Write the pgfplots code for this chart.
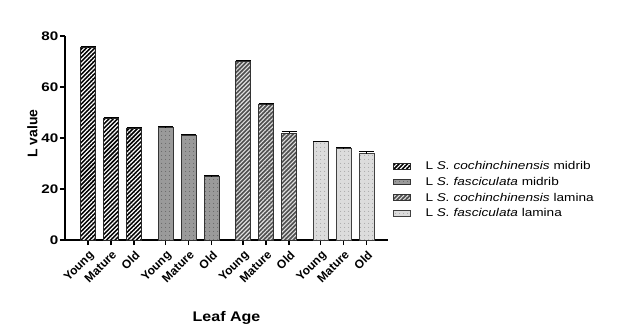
\documentclass[border=0pt]{standalone}
\usepackage{fontspec}
\setmainfont{Liberation Sans}
\newfontfamily\wideA{Liberation Sans}[FakeStretch=1.22]
\newfontfamily\wideB{Liberation Sans}[FakeStretch=1.21]
\newfontfamily\wideC{Liberation Sans}[FakeStretch=1.15]
\usepackage{pgfplots}
\pgfplotsset{compat=1.18}
\usepackage{pgfplotstable}
\usetikzlibrary{patterns.meta}

\pgfplotstableread{
x y e
0 75.5 0.3
1 47.6 0.3
2 43.7 0.3
}\scMid
\pgfplotstableread{
x y e
3.37 44.1 0.3
4.37 41.1 0.3
5.37 24.9 0.2
}\sfMid
\pgfplotstableread{
x y e
6.74 70.1 0.3
7.74 53.1 0.3
8.74 41.9 0.8
}\scLam
\pgfplotstableread{
x y e
10.11 38.5 0.3
11.11 35.9 0.2
12.11 33.9 0.8
}\sfLam

\definecolor{sfmid}{HTML}{9A9A9A}
\definecolor{sclam}{HTML}{505050}
\definecolor{sflam}{HTML}{DCDCDC}

\begin{document}
\begin{tikzpicture}
\begin{axis}[
  name=ax,
  scale only axis,
  width=323bp, height=204bp,
  xmin=-1, xmax=13.04,
  ymin=0, ymax=80,
  axis x line=bottom, axis y line=left,
  axis line style={-, line width=1.4bp},
  ytick={0,20,40,60,80},
  xtick={0,1,2,3.37,4.37,5.37,6.74,7.74,8.74,10.11,11.11,12.11},
  xticklabels={Young,Mature,Old,Young,Mature,Old,Young,Mature,Old,Young,Mature,Old},
  tick style={line width=1.4bp, black},
  major tick length=5bp,
  tick align=outside,
  /pgf/number format/assume math mode=true,
  xticklabel style={font=\fontsize{12}{14}\selectfont\bfseries, rotate=45, anchor=north east, inner sep=0.5bp, xshift=-2.5bp, yshift=-3bp},
  yticklabel style={font=\wideA\fontsize{12.5}{14}\selectfont\bfseries, inner sep=1.5bp},
  xlabel={Leaf Age}, ylabel={L value},
  every axis x label/.style={at={([yshift=-78bp]axis description cs:0.5,0)}, anchor=center, font=\wideC\fontsize{14}{16}\selectfont\bfseries},
  every axis y label/.style={at={([xshift=-32.5bp]axis description cs:0,0.522)}, rotate=90, anchor=center, font=\fontsize{14}{16}\selectfont\bfseries},
  ybar, bar width=15bp, bar shift=0pt,
  legend style={at={([xshift=5bp]axis description cs:1.0,0.245)}, anchor=west, draw=none, fill=none, font=\wideB\fontsize{11.3}{13}\selectfont, row sep=2bp, inner sep=0bp},
  legend cell align=left,
  legend image code/.code={\draw[#1, bar width=15bp] (0bp,-2.5bp) rectangle (17bp,3bp);
    \pgfpathmoveto{\pgfqpoint{0bp}{0bp}}\pgfpathlineto{\pgfqpoint{30bp}{0bp}}\pgfusepath{discard}},
  error bars/y dir=plus, error bars/y explicit,
  error bars/error mark options={rotate=90, mark size=7.5bp, line width=1bp, black},
  error bars/error bar style={line width=1bp, black},
  clip=false,
]
\addplot[draw=black!85, line width=0.8bp, fill=black,
  postaction={pattern={Lines[angle=45,distance=3bp,line width=1.2bp]}, pattern color=white}]
  table[x=x, y=y, y error=e] {\scMid};
\addlegendentry{L \textit{S. cochinchinensis} midrib}
\addplot[draw=black!80, line width=0.8bp, fill=sfmid,
  postaction={pattern={Dots[radius=0.45bp,distance=3.6bp]}, pattern color=black!70}]
  table[x=x, y=y, y error=e] {\sfMid};
\addlegendentry{L \textit{S. fasciculata} midrib}
\addplot[draw=black!80, line width=0.8bp, fill=sclam,
  postaction={pattern={Lines[angle=45,distance=3bp,line width=1.1bp]}, pattern color=black!12}]
  table[x=x, y=y, y error=e] {\scLam};
\addlegendentry{L \textit{S. cochinchinensis} lamina}
\addplot[draw=black!75, line width=0.8bp, fill=sflam,
  postaction={pattern={Dots[radius=0.45bp,distance=3.6bp]}, pattern color=black!45}]
  table[x=x, y=y, y error=e] {\sfLam};
\addlegendentry{L \textit{S. fasciculata} lamina}
\coordinate (SW) at (rel axis cs:0,0);
\end{axis}
\pgfresetboundingbox
\path ([shift={(-65bp,-96bp)}]SW) rectangle ([shift={(574bp,240bp)}]SW);
\end{tikzpicture}
\end{document}
